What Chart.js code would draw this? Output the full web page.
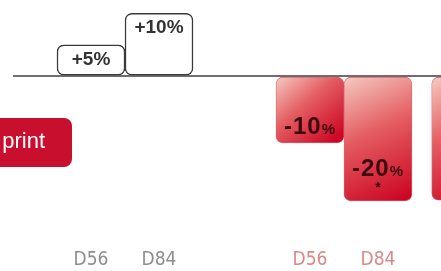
<!DOCTYPE html>
<html>
<head>
<meta charset="utf-8">
<script src="https://cdn.jsdelivr.net/npm/chart.js@4.4.1/dist/chart.umd.min.js"></script>
<style>
  html, body { margin: 0; padding: 0; background: #fff; }
  canvas { display: block; }
</style>
</head>
<body>
<canvas id="chart" width="441" height="271"></canvas>
<script>
// bar positions along the x axis (two groups, last bar is cut off by the frame)
const xPos = [0, 1, 3.22, 4.22, 5.51];
const values = [5, 10, -10.6, -19.8, -19.7];
const valueLabels = ['+5', '+10', '-10', '-20', ''];
const stars = ['', '', '', '*', ''];
const tickPos = [0, 1, 3.22, 4.22];
const tickLabels = ['D56', 'D84', 'D56', 'D84'];
const tickColors = ['#8e8e8e', '#8e8e8e', '#d98a86', '#d98a86'];

function barFill(ctx) {
    const chart = ctx.chart;
    if (!chart.chartArea) return '#fff';
    const i = ctx.dataIndex;
    if (values[i] >= 0) return '#ffffff';
    const cx = chart.scales.x.getPixelForValue(xPos[i]);
    const top = chart.scales.y.getPixelForValue(0);
    const bot = chart.scales.y.getPixelForValue(values[i]);
    const g = chart.ctx.createLinearGradient(cx - 34, top, cx + 24, bot);
    g.addColorStop(0, '#f5cbc3');
    g.addColorStop(0.45, '#e45e62');
    g.addColorStop(1, '#cc0522');
    return g;
}

const labelPlugin = {
    id: 'labels',
    afterDatasetsDraw(chart) {
        const c = chart.ctx;
        const meta = chart.getDatasetMeta(0);
        c.save();
        c.textBaseline = 'alphabetic';
        meta.data.forEach((el, i) => {
            const txt = valueLabels[i];
            if (!txt) return;
            if (values[i] >= 0) {
                c.textAlign = 'center';
                c.textBaseline = 'middle';
                c.fillStyle = '#333';
                c.font = 'bold 19px "Liberation Sans", Arial, sans-serif';
                c.fillText(txt + '%', el.x, el.y + 15);
                c.textBaseline = 'alphabetic';
            } else {
                // baseline of the big digits
                const yb = stars[i] ? el.y - 25 : el.y - 9;
                c.fillStyle = '#3a0a10';
                c.letterSpacing = '1px';
                c.font = 'bold 24px "Liberation Sans", Arial, sans-serif';
                const w1 = c.measureText(txt).width;
                c.font = 'bold 15px "Liberation Sans", Arial, sans-serif';
                const w2 = c.measureText('%').width;
                const x0 = el.x - (w1 + w2) / 2;
                c.textAlign = 'left';
                c.font = 'bold 24px "Liberation Sans", Arial, sans-serif';
                c.fillText(txt, x0, yb);
                c.font = 'bold 15px "Liberation Sans", Arial, sans-serif';
                c.fillText('%', x0 + w1, yb);
                c.letterSpacing = '0px';
                if (stars[i]) {
                    c.textAlign = 'center';
                    c.font = 'bold 14px "Liberation Sans", Arial, sans-serif';
                    c.fillText(stars[i], el.x, el.y - 9);
                }
            }
        });
        c.restore();
    }
};

const tagPlugin = {
    id: 'tag',
    afterDraw(chart) {
        const c = chart.ctx;
        c.save();
        c.fillStyle = '#c80f2e';
        c.beginPath();
        c.roundRect(-12, 118, 84, 49, 8);
        c.fill();
        c.fillStyle = '#ffffff';
        c.font = '22px "Liberation Sans", Arial, sans-serif';
        c.textAlign = 'right';
        c.textBaseline = 'middle';
        c.fillText('print', 45, 142);
        c.restore();
    }
};

new Chart(document.getElementById('chart'), {
    type: 'bar',
    data: {
        datasets: [{
            data: xPos.map((x, i) => ({ x: x, y: values[i] })),
            backgroundColor: barFill,
            borderColor: xPos.map((x, i) => values[i] >= 0 ? '#3a3a3a' : 'rgba(190,0,30,0.6)'),
            borderWidth: xPos.map((x, i) => values[i] >= 0 ? 1.5 : 0.8),
            borderRadius: 7,
            borderSkipped: false,
            barThickness: 68
        }]
    },
    options: {
        responsive: false,
        animation: false,
        devicePixelRatio: 1,
        layout: { padding: { left: 13, right: 0, top: 0, bottom: 0 } },
        plugins: { legend: { display: false }, tooltip: { enabled: false } },
        scales: {
            x: {
                type: 'linear',
                offset: false,
                min: -1.147,
                max: 5.147,
                grid: { display: false, drawTicks: false },
                border: { display: false },
                afterBuildTicks: axis => { axis.ticks = tickPos.map(v => ({ value: v })); },
                ticks: {
                    autoSkip: false,
                    maxRotation: 0,
                    padding: 3,
                    callback: (v, i) => tickLabels[i],
                    color: ctx => tickColors[ctx.index],
                    font: { family: '"Liberation Sans Narrow", "DejaVu Sans Condensed", sans-serif', size: 19, lineHeight: 0.79 }
                }
            },
            y: {
                min: -27.6,
                max: 12.1,
                border: { display: false },
                afterBuildTicks: axis => { axis.ticks = [{ value: 0 }]; },
                grid: {
                    color: ctx => ctx.tick && ctx.tick.value === 0 ? '#6e6e6e' : 'rgba(0,0,0,0)',
                    lineWidth: 2,
                    drawTicks: false
                },
                ticks: { display: false }
            }
        }
    },
    plugins: [labelPlugin, tagPlugin]
});
</script>
</body>
</html>
